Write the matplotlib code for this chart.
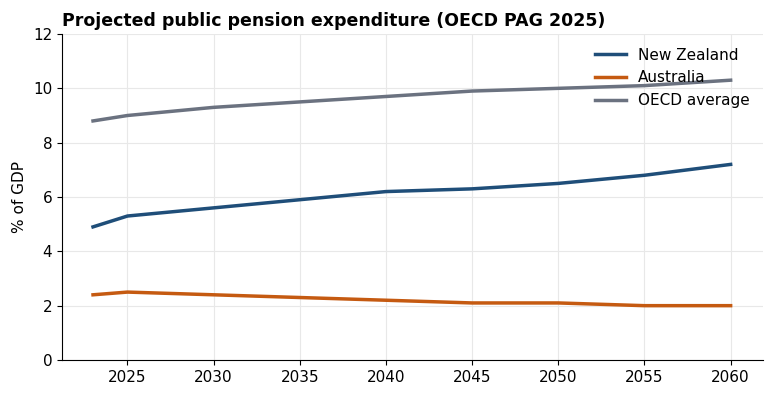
import matplotlib
matplotlib.use("Agg")
from matplotlib import pyplot as plt

years = [2023, 2025, 2030, 2035, 2040, 2045, 2050, 2055, 2060]
nz = [4.9, 5.3, 5.6, 5.9, 6.2, 6.3, 6.5, 6.8, 7.2]
aus = [2.4, 2.5, 2.4, 2.3, 2.2, 2.1, 2.1, 2.0, 2.0]
oecd = [8.8, 9.0, 9.3, 9.5, 9.7, 9.9, 10.0, 10.1, 10.3]

fig, ax = plt.subplots(figsize=(7.75, 4.0), dpi=100)
ax.plot(years, nz, color="#1f4e79", linewidth=2.5, label="New Zealand")
ax.plot(years, aus, color="#c55a11", linewidth=2.5, label="Australia")
ax.plot(years, oecd, color="#6b7280", linewidth=2.5, label="OECD average")

ax.set_xlim(2021.2, 2061.9)
ax.set_ylim(0, 12)
ax.set_xticks(range(2025, 2061, 5))
ax.set_yticks(range(0, 13, 2))
ax.tick_params(labelsize=11)
ax.set_ylabel("% of GDP", fontsize=11)
ax.grid(True, color="#e8e8e8", linewidth=0.8)
ax.set_axisbelow(True)
for s in ["top", "right"]:
    ax.spines[s].set_visible(False)
ax.set_title("Projected public pension expenditure (OECD PAG 2025)", loc="left",
             fontweight="bold", fontsize=12.5)
ax.legend(loc="upper right", frameon=False, fontsize=11)

fig.subplots_adjust(left=0.08, right=0.985, top=0.915, bottom=0.1)
fig.savefig("out.png")
